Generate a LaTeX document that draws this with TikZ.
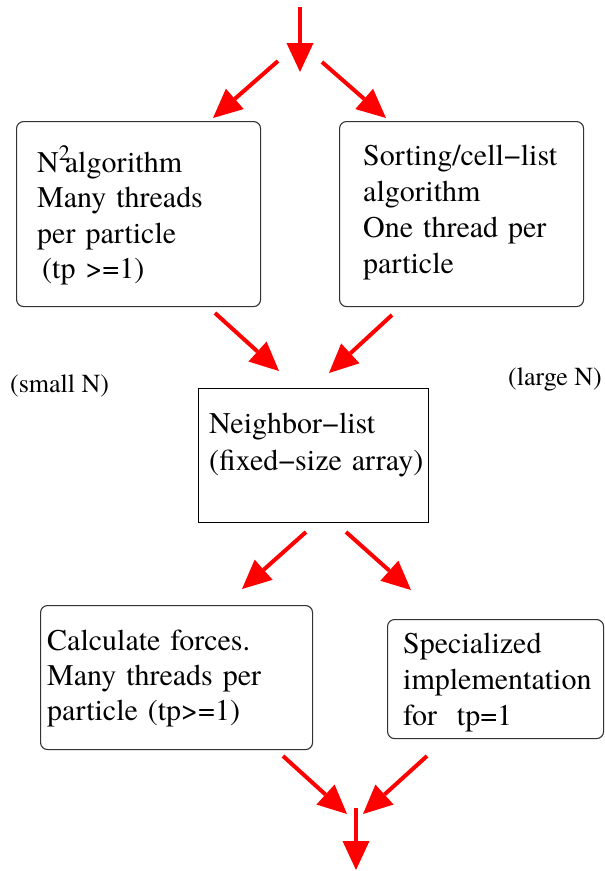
\documentclass[tikz,border=0pt]{standalone}
\usepackage{fontspec}
\setmainfont{TeX Gyre Termes}
\usetikzlibrary{arrows.meta}
\begin{document}
\begin{tikzpicture}[x=1pt,y=-1pt,
  rbox/.style={draw=black!80, line width=1.1pt, rounded corners=7pt, anchor=north west, inner sep=0pt},
  sbox/.style={draw=black, line width=1.3pt, anchor=north west, inner sep=0pt},
  txt/.style={anchor=base west, inner sep=0pt, text width=260pt, align=left, font=\fontsize{30pt}{35.5pt}\selectfont},
  lbl/.style={anchor=base west, inner sep=0pt, font=\fontsize{26pt}{30pt}\selectfont},
  flow/.style={draw=red, line width=4pt, -{Triangle[length=29pt,width=27pt,line width=0pt]}}]
\useasboundingbox (0,0) rectangle (605,871);

% boxes
\node[rbox, minimum width=244pt, minimum height=185pt] (b1) at (16,121) {};
\node[rbox, minimum width=244pt, minimum height=185pt] (b2) at (339,121) {};
\node[sbox, minimum width=230pt, minimum height=134pt] (nb) at (198,388) {};
\node[rbox, minimum width=272pt, minimum height=144pt] (b3) at (40,605) {};
\node[rbox, minimum width=216pt, minimum height=119pt] (b4) at (387,619) {};

% texts
\node[txt] (t1) at (37,172) {N\raisebox{12pt}{\fontsize{22pt}{22pt}\selectfont 2}\kern-5pt algorithm\\Many threads\\per particle\\\hspace*{5pt}(tp >=1)};
\node[txt, font=\fontsize{30pt}{36pt}\selectfont] (t2) at (363,165) {Sorting/cell−list\\algorithm\\One thread per\\particle};
\node[txt, font=\fontsize{30pt}{37pt}\selectfont] (tn) at (209,433) {Neighbor−list\\(fixed−size array)};
\node[txt, font=\fontsize{30pt}{35pt}\selectfont] (t3) at (47,650) {Calculate forces.\\Many threads per\\particle (tp>=1)};
\node[txt, font=\fontsize{30pt}{36pt}\selectfont] (t4) at (403,653) {Specialized\\implementation\\for\ \ tp=1};
\node[lbl] (ls) at (10,392) {(small N)};
\node[lbl] (ll) at (508,385) {(large N)};

% arrow end points
\coordinate (s0) at (300,7);   \coordinate (e0) at (300,72);
\coordinate (s1) at (278,61);  \coordinate (e1) at (213,118);
\coordinate (s2) at (322,62);  \coordinate (e2) at (386,118);
\coordinate (s3) at (215,313); \coordinate (e3) at (279,371);
\coordinate (s4) at (392,315); \coordinate (e4) at (329,373);
\coordinate (s5) at (306,532); \coordinate (e5) at (242,589);
\coordinate (s6) at (346,532); \coordinate (e6) at (411,590);
\coordinate (s7) at (283,756); \coordinate (e7) at (347,814);
\coordinate (s8) at (427,756); \coordinate (e8) at (363,814);
\coordinate (s9) at (356,808); \coordinate (e9) at (356,870);

\foreach \i in {0,...,9} { \draw[flow] (s\i) -- (e\i); }
\end{tikzpicture}
\end{document}
